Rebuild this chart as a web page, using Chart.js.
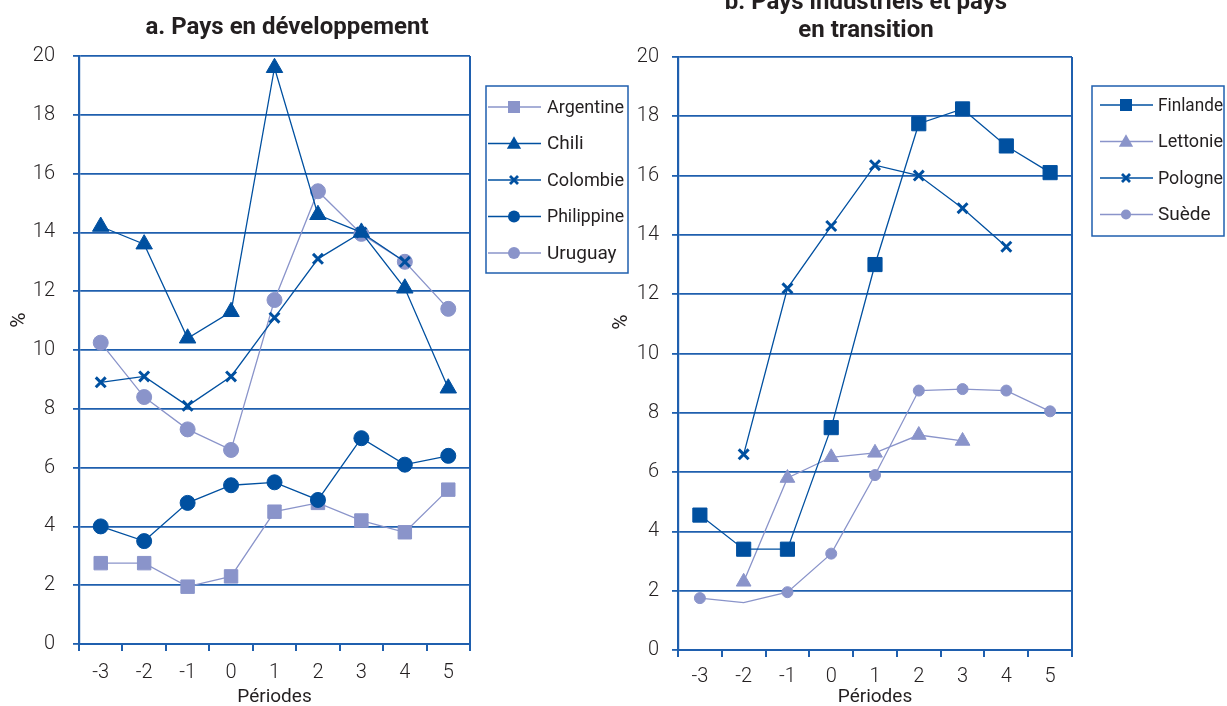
<!DOCTYPE html>
<html lang="fr">
<head>
<meta charset="utf-8">
<script src="https://cdn.jsdelivr.net/npm/chart.js@4/dist/chart.umd.min.js"></script>
<style>
  html, body { margin: 0; padding: 0; background: #fff; }
  body { width: 1227px; height: 706px; position: relative; overflow: hidden; }
  .panel { position: absolute; top: 0; height: 706px; }
  #panelA { left: 0; width: 640px; }
  #panelB { left: 600px; width: 627px; }
</style>
</head>
<body>
<div class="panel" id="panelA"><canvas id="chartA"></canvas></div>
<div class="panel" id="panelB"><canvas id="chartB"></canvas></div>

<script>
    // categories and ticks
    const periods = ["-3", "-2", "-1", "0", "1", "2", "3", "4", "5"];
    const yTickValues = [0, 2, 4, 6, 8, 10, 12, 14, 16, 18, 20];

    // a. Pays en développement
    const argentine  = [2.75, 2.75, 1.95, 2.3, 4.5, 4.8, 4.2, 3.8, 5.25];
    const chili      = [14.2, 13.6, 10.4, 11.3, 19.6, 14.6, 14.0, 12.1, 8.7];
    const colombie   = [8.9, 9.1, 8.1, 9.1, 11.1, 13.1, 14.0, 13.0, null];
    const philippine = [4.0, 3.5, 4.8, 5.4, 5.5, 4.9, 7.0, 6.1, 6.4];
    const uruguay    = [10.25, 8.4, 7.3, 6.6, 11.7, 15.4, 13.95, 13.0, 11.4];

    // b. Pays industriels et pays en transition
    const finlande = [4.55, 3.4, 3.4, 7.5, 13.0, 17.75, 18.25, 17.0, 16.1];
    const lettonie = [null, 2.3, 5.8, 6.5, 6.65, 7.25, 7.05, null, null];
    const pologne  = [null, 6.6, 12.2, 14.3, 16.35, 16.0, 14.9, 13.6, null];
    const suede    = [1.75, 1.6, 1.95, 3.25, 5.9, 8.75, 8.8, 8.75, 8.05];

    const dark = "#0050a0";
    const light = "#8a94ca";
    const gridBlue = "#1f5fae";
    const textCol = "#231f20";
    const fam = "Roboto, 'Open Sans', sans-serif";

    Chart.defaults.font.family = fam;
    Chart.defaults.color = textCol;

    function series(label, data, color, style, radius, order, extra) {
        return Object.assign({
            label: label,
            data: data,
            borderColor: color,
            backgroundColor: color,
            borderWidth: 1.3,
            pointStyle: style,
            pointRadius: radius,
            pointHoverRadius: radius,
            pointBorderWidth: style === "crossRot" ? 3 : 1,
            pointBorderColor: color,
            pointBackgroundColor: color,
            tension: 0,
            order: order
        }, extra || {});
    }

    // small marker drawer for the hand-made legend
    function marker(ctx, style, x, y, r, color) {
        ctx.save();
        ctx.fillStyle = color;
        ctx.strokeStyle = color;
        ctx.beginPath();
        if (style === "rect") {
            ctx.rect(x - r, y - r, 2 * r, 2 * r);
            ctx.fill();
        } else if (style === "triangle") {
            ctx.moveTo(x, y - r * 1.1);
            ctx.lineTo(x + r * 1.1, y + r * 0.8);
            ctx.lineTo(x - r * 1.1, y + r * 0.8);
            ctx.closePath();
            ctx.fill();
        } else if (style === "crossRot") {
            ctx.lineWidth = 2.8;
            ctx.moveTo(x - r, y - r); ctx.lineTo(x + r, y + r);
            ctx.moveTo(x + r, y - r); ctx.lineTo(x - r, y + r);
            ctx.stroke();
        } else {
            ctx.arc(x, y, r, 0, Math.PI * 2);
            ctx.fill();
        }
        ctx.restore();
    }

    function decor(opts) {
        return {
            id: "decor",
            afterDraw(chart) {
                const ctx = chart.ctx;
                const a = chart.chartArea;
                ctx.save();
                // right frame line
                ctx.strokeStyle = gridBlue;
                ctx.lineWidth = 2;
                ctx.beginPath();
                ctx.moveTo(a.right, a.top);
                ctx.lineTo(a.right, a.bottom + 6);
                ctx.stroke();

                // title
                ctx.fillStyle = textCol;
                ctx.font = "bold 24px " + fam;
                ctx.textAlign = "center";
                ctx.textBaseline = "middle";
                opts.title.forEach((line, i) => ctx.fillText(line, opts.titleX, opts.titleY + i * 28));

                // % label
                ctx.save();
                ctx.translate(opts.pctX, opts.pctY);
                ctx.rotate(-Math.PI / 2);
                ctx.font = "21px " + fam;
                ctx.fillText("%", 0, 0);
                ctx.restore();

                // legend box
                const L = opts.legend;
                ctx.strokeStyle = gridBlue;
                ctx.lineWidth = 1.5;
                ctx.strokeRect(L.x, L.y, L.w, L.h);
                ctx.font = "19px " + fam;
                ctx.textAlign = "left";
                chart.data.datasets.forEach((ds, i) => {
                    const y = L.firstRow + i * L.step;
                    ctx.strokeStyle = ds.borderColor;
                    ctx.lineWidth = 1.3;
                    ctx.beginPath();
                    ctx.moveTo(L.x + L.lineFrom, y);
                    ctx.lineTo(L.x + L.lineFrom + 53, y);
                    ctx.stroke();
                    const r = { rect: 6, triangle: 6.5, crossRot: 4, circle: 6 }[ds.pointStyle];
                    marker(ctx, ds.pointStyle, L.x + L.lineFrom + 26, y, ds.legendR || r, ds.borderColor);
                    ctx.fillStyle = textCol;
                    ctx.fillText(ds.label, L.x + L.textX, y + 1, L.textMax);
                });
                ctx.restore();
            }
        };
    }

    function scalesFor(yWidth, yPad, xHeight, xPad) {
        return {
            x: {
                type: "category",
                labels: periods,
                offset: true,
                grid: {
                    offset: true,
                    drawOnChartArea: false,
                    drawTicks: true,
                    tickLength: 7,
                    color: gridBlue,
                    lineWidth: 2
                },
                border: { display: true, color: gridBlue, width: 2 },
                ticks: { font: { size: 20, weight: "300" }, padding: xPad, color: textCol },
                title: {
                    display: true,
                    text: "Périodes",
                    font: { size: 19, lineHeight: 0.9 },
                    padding: { top: 0, bottom: 0 },
                    color: textCol
                },
                afterFit(scale) { scale.height = xHeight; }
            },
            y: {
                min: 0,
                max: 20,
                afterBuildTicks(scale) { scale.ticks = yTickValues.map(v => ({ value: v })); },
                grid: {
                    color: gridBlue,
                    lineWidth: 1.8,
                    drawTicks: true,
                    tickLength: 6
                },
                border: { display: true, color: gridBlue, width: 2.2 },
                ticks: { font: { size: 20, weight: "300" }, padding: yPad, color: textCol },
                afterFit(scale) { scale.width = yWidth; }
            }
        };
    }

    const common = {
        responsive: true,
        maintainAspectRatio: false,
        animation: false,
        plugins: { legend: { display: false }, tooltip: { enabled: false } }
    };

    new Chart("chartA", {
        type: "line",
        data: {
            labels: periods,
            datasets: [
                series("Argentine", argentine, light, "rect", 9.5, 4),
                series("Chili", chili, dark, "triangle", 9.5, 3),
                series("Colombie", colombie, dark, "crossRot", 7, 1),
                series("Philippine", philippine, dark, "circle", 7.5, 2),
                series("Uruguay", uruguay, light, "circle", 7.5, 5)
            ]
        },
        options: Object.assign({}, common, {
            layout: { padding: { top: 56, right: 170, left: 0, bottom: 0 } },
            scales: scalesFor(79, 18, 62, 10)
        }),
        plugins: [decor({
            title: ["a. Pays en développement"],
            titleX: 287, titleY: 28,
            pctX: 20, pctY: 320,
            legend: { x: 486, y: 86, w: 142, h: 187, firstRow: 107, step: 36.5,
                      lineFrom: 2, textX: 61, textMax: 77 }
        })]
    });

    new Chart("chartB", {
        type: "line",
        data: {
            labels: periods,
            datasets: [
                series("Finlande", finlande, dark, "rect", 10, 1),
                series("Lettonie", lettonie, light, "triangle", 8.5, 3),
                series("Pologne", pologne, dark, "crossRot", 7, 2),
                series("Suède", suede, light, "circle", 5.5, 4, {
                    pointRadius: [5.5, 0, 5.5, 5.5, 5.5, 5.5, 5.5, 5.5, 5.5],
                    legendR: 5
                })
            ]
        },
        options: Object.assign({}, common, {
            layout: { padding: { top: 57, right: 155, left: 0, bottom: 0 } },
            scales: scalesFor(78, 13, 56, 8)
        }),
        plugins: [decor({
            title: ["b. Pays industriels et pays", "en transition"],
            titleX: 266, titleY: 3,
            pctX: 22, pctY: 322,
            legend: { x: 492, y: 86, w: 132, h: 150, firstRow: 105, step: 36.5,
                      lineFrom: 8, textX: 66, textMax: 65 }
        })]
    });
</script>
</body>
</html>
